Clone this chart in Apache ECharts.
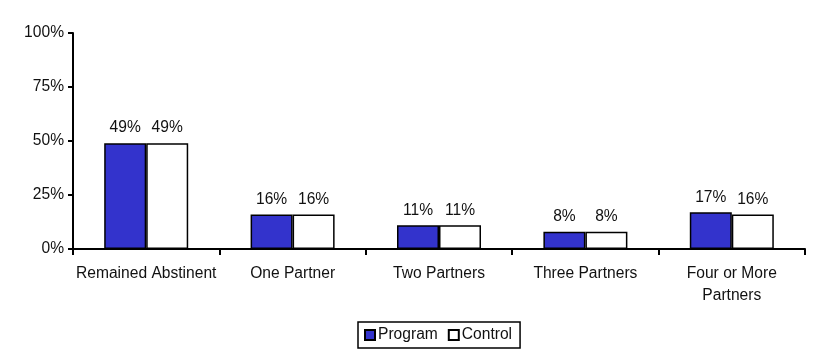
<!DOCTYPE html>
<html><head><meta charset="utf-8">
<script src="https://cdn.jsdelivr.net/npm/echarts@6/dist/echarts.min.js"></script>
<style>html,body{margin:0;padding:0;background:#fff}#c{width:822px;height:360px}</style>
</head><body><div id="c"></div>
<script>
var categories = ['Remained Abstinent', 'One Partner', 'Two Partners', 'Three Partners', 'Four or More\nPartners'];
var programValues = [49, 16, 11, 8, 17];
var controlValues = [49, 16, 11, 8, 16];
var yTicks = [0, 25, 50, 75, 100];

var chart = echarts.init(document.getElementById('c'));
var font = 'Liberation Sans, Arial, sans-serif';
var fs = 15.6;
var lbl = {show: true, position: 'top', distance: 7, formatter: '{c}%', color: '#111', fontFamily: font, fontSize: fs};
chart.setOption({
  animation: false,
  grid: {left: 73, right: 17, top: 33, bottom: 111},
  legend: {
    bottom: 12, left: 358,
    data: ['Program', 'Control'],
    itemWidth: 10, itemHeight: 10, itemGap: 10,
    borderColor: '#000', borderWidth: 1.5, padding: [5, 8, 5, 6],
    textStyle: {fontFamily: font, fontSize: fs, color: '#111', padding: [0, 0, 0, -2]},
    icon: 'rect'
  },
  xAxis: {
    type: 'category', data: categories,
    axisLine: {lineStyle: {color: '#000', width: 2}},
    axisTick: {show: true, length: 6, lineStyle: {color: '#000', width: 2}},
    axisLabel: {interval: 0, fontFamily: font, fontSize: fs, color: '#111', margin: 14, lineHeight: 22}
  },
  yAxis: {
    type: 'value', min: 0, max: 100, interval: 25,
    axisLine: {show: true, lineStyle: {color: '#000', width: 2}},
    axisTick: {show: true, length: 5, lineStyle: {color: '#000', width: 2}},
    splitLine: {show: false},
    axisLabel: {fontFamily: font, fontSize: fs, color: '#111', margin: 9,
      formatter: function (v) { return yTicks.indexOf(v) >= 0 ? v + '%' : ''; }}
  },
  series: [
    {name: 'Program', type: 'bar', data: programValues, barWidth: 42, barGap: '0%',
     itemStyle: {color: '#3333CC', borderColor: '#000', borderWidth: 1.5}, label: lbl},
    {name: 'Control', type: 'bar', data: controlValues, barWidth: 42,
     itemStyle: {color: '#fff', borderColor: '#000', borderWidth: 1.5}, label: lbl}
  ]
});
</script></body></html>
